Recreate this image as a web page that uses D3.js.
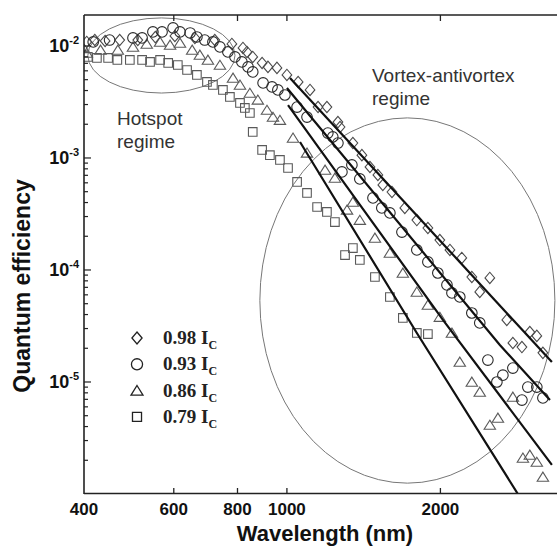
<!DOCTYPE html>
<html>
<head>
<meta charset="utf-8">
<script src="https://cdn.jsdelivr.net/npm/d3@7"></script>
<style>
html,body{margin:0;padding:0;background:#fff;}
svg{display:block;}
</style>
</head>
<body>
<svg id="chart" width="557" height="547"></svg>
<script>
// ---------- data ----------
const xTicks = [400, 600, 800, 1000, 2000];
const yMajor = [1e-2, 1e-3, 1e-4, 1e-5];
const yExp = ["-2", "-3", "-4", "-5"];
const legendLabels = ["0.98 I", "0.93 I", "0.86 I", "0.79 I"];

const lam98 = [405,420,440,470,510,552,603,660,722,780,820,835,857,894,918,956,1000,1052,1110,1151,1198,1259,1271,1347,1403,1455,1508,1542,1607,1703,1798,1890,1995,2088,2203,2305,2389,2500,2699,2774,2890,2995,3091,3177];
const qe98  = [0.01086,0.01131,0.01108,0.0113,0.0113,0.0120,0.01228,0.01179,0.0113,0.01042,0.0096,0.00884,0.00798,0.00705,0.0065,0.00637,0.00551,0.00477,0.00405,0.00285,0.00285,0.00209,0.00189,0.00136,0.00106,0.000831,0.000705,0.000574,0.000497,0.000358,0.000279,0.000237,0.000185,0.000151,0.000128,8.66e-5,6.37e-5,8.49e-5,3.58e-5,2.23e-5,2.05e-5,2.79e-5,2.58e-5,1.82e-5];

const lam93 = [417,449,499,520,546,569,598,617,646,666,690,716,739,766,791,816,839,857,898,935,960,991,1047,1095,1203,1230,1259,1282,1341,1390,1475,1535,1592,1681,1798,1890,1977,2060,2107,2183,2305,2389,2478,2581,2652,2774,2890,2968,3091,3177];
const qe93  = [0.01086,0.0113,0.01179,0.01179,0.01334,0.01334,0.01448,0.01334,0.01306,0.01203,0.0113,0.01086,0.0098,0.00884,0.00798,0.0072,0.0065,0.00586,0.00468,0.00431,0.00405,0.00365,0.00285,0.00232,0.00167,0.00154,0.00136,0.00075,0.000866,0.00065,0.00044,0.000358,0.000323,0.000218,0.000151,0.000118,9.4e-5,7.35e-5,6.24e-5,5.74e-5,4.13e-5,3.37e-5,1.57e-5,1.0e-5,1.15e-5,1.33e-5,6.9e-6,9.0e-6,9.0e-6,7.2e-6];

const lam86 = [405,431,466,499,531,564,590,617,652,675,700,739,784,809,846,877,914,939,969,1028,1095,1188,1242,1312,1347,1390,1488,1592,1688,1798,1890,1995,2107,2183,2305,2389,2500,2593,2774,2903,2995,3091,3177];
const qe86  = [0.00866,0.00921,0.00921,0.0098,0.01042,0.01086,0.0102,0.01064,0.00921,0.00831,0.0075,0.00676,0.00518,0.00449,0.0038,0.0033,0.00268,0.00232,0.00218,0.00151,0.00111,0.000781,0.000663,0.000344,0.000405,0.000279,0.000193,0.000142,9.4e-5,6.37e-5,4.87e-5,3.8e-5,2.74e-5,1.51e-5,1.0e-5,8.14e-6,4.13e-6,4.77e-6,7.35e-6,2.1e-6,2.23e-6,1.93e-6,1.42e-6];

const lam79 = [407,424,446,465,492,520,539,564,585,611,637,666,697,716,749,773,809,827,846,857,894,926,969,1005,1047,1095,1146,1198,1242,1300,1347,1390,1488,1592,1688,1798,1890];
const qe79  = [0.00798,0.00782,0.00782,0.0075,0.0075,0.0075,0.0072,0.0075,0.00705,0.00676,0.0061,0.00551,0.00477,0.00449,0.00405,0.00351,0.0031,0.0028,0.00252,0.00171,0.00118,0.00106,0.00096,0.000814,0.000611,0.000487,0.000365,0.00033,0.000268,0.000136,0.000157,0.000123,8.66e-5,5.74e-5,3.73e-5,2.74e-5,2.68e-5];

// fit lines (power-law, straight in log-log)
const fitLam98 = [1014, 3309];  const fitQe98 = [0.00518, 1.51e-5];
const fitLam93 = [1000, 2616, 3280]; const fitQe93 = [0.00422, 2.14e-5, 6.9e-6];
const fitLam86 = [1005, 2023, 3309]; const fitQe86 = [0.00297, 3.58e-5, 1.82e-6];
const fitLam79 = [1061, 1798, 2838]; const fitQe79 = [0.00139, 2.74e-5, 1.0e-6];

// regime ellipses in data units
const hotspotBox = {lamMin: 407, lamMax: 791, qeMax: 0.0178, qeMin: 0.0038};
const vortexBox  = {lamMin: 885, lamMax: 3354, qeMax: 0.00228, qeMin: 1.25e-6};

// ---------- drawing ----------
const svg = d3.select("#chart");
const L = 84, R = 557, T = 15, B = 494;
const x = d3.scaleLog().domain([400, 3386]).range([L, R]);
const y = d3.scaleLog().domain([1e-6, 0.0189]).range([B, T]);

const sans = "'Liberation Sans', Arial, Helvetica, sans-serif";
const serif = "'Liberation Serif', 'Times New Roman', serif";

svg.append("defs").append("clipPath").attr("id","clip")
  .append("rect").attr("x", L).attr("y", T).attr("width", R - L).attr("height", B - T);

// ellipses
function ellipse(b) {
  const x0 = x(b.lamMin), x1 = x(b.lamMax), y0 = y(b.qeMax), y1 = y(b.qeMin);
  svg.append("ellipse")
    .attr("cx", (x0 + x1) / 2).attr("cy", (y0 + y1) / 2)
    .attr("rx", (x1 - x0) / 2).attr("ry", (y1 - y0) / 2)
    .attr("fill", "none").attr("stroke", "#777").attr("stroke-width", 1)
    .attr("clip-path", "url(#clip)");
}
ellipse(hotspotBox);
ellipse(vortexBox);

// annotation texts
const ann = svg.append("g").attr("font-family", sans).attr("font-size", 19).attr("fill", "#333");
ann.append("text").attr("x", 117).attr("y", 125).text("Hotspot");
ann.append("text").attr("x", 117).attr("y", 148).text("regime");
ann.append("text").attr("x", 372).attr("y", 82).text("Vortex-antivortex");
ann.append("text").attr("x", 372).attr("y", 105).text("regime");

function diamondPath(s){ return `M0,${-s}L${s*0.85},0L0,${s}L${-s*0.85},0Z`; }
function trianglePath(s){ return `M0,${-s*0.85}L${s},${s*0.75}L${-s},${s*0.75}Z`; }
function squarePath(s){ return `M${-s},${-s}L${s},${-s}L${s},${s}L${-s},${s}Z`; }

const series = [
  {lam: lam79, qe: qe79, shape: "square", color: "#5a5a5a"},
  {lam: lam86, qe: qe86, shape: "triangle", color: "#5a5a5a"},
  {lam: lam98, qe: qe98, shape: "diamond", color: "#4a4a4a"},
  {lam: lam93, qe: qe93, shape: "circle", color: "#2a2a2a"}
];

const plot = svg.append("g").attr("clip-path", "url(#clip)");

function drawMarker(g, shape, cx, cy, color, scale, sw) {
  const k = scale || 1;
  let el;
  if (shape === "circle") {
    el = g.append("circle").attr("cx", cx).attr("cy", cy).attr("r", 5.3 * k);
  } else {
    let d;
    if (shape === "diamond") d = diamondPath(5.7 * k);
    else if (shape === "triangle") d = trianglePath(5.7 * k);
    else d = squarePath(4.3 * k);
    el = g.append("path").attr("d", d).attr("transform", `translate(${cx},${cy})`);
  }
  el.attr("fill", "none").attr("stroke", color).attr("stroke-width", sw || 1.1);
}

series.forEach(s => {
  s.lam.forEach((l, i) => drawMarker(plot, s.shape, x(l), y(s.qe[i]), s.color));
});

// fit lines
const lineGen = d3.line().x(d => x(d[0])).y(d => y(d[1]));
[[fitLam98, fitQe98], [fitLam93, fitQe93], [fitLam86, fitQe86], [fitLam79, fitQe79]].forEach(f => {
  const pts = f[0].map((l, i) => [l, f[1][i]]);
  plot.append("path").attr("d", lineGen(pts))
    .attr("fill", "none").attr("stroke", "#111").attr("stroke-width", 2.2);
});

// frame
const frame = svg.append("g").attr("stroke", "#222").attr("stroke-width", 1.6).attr("fill", "none");
frame.append("line").attr("x1", L).attr("x2", R).attr("y1", T).attr("y2", T);
frame.append("line").attr("x1", L).attr("x2", R).attr("y1", B - 0.5).attr("y2", B - 0.5);
frame.append("line").attr("x1", L).attr("x2", L).attr("y1", T).attr("y2", B);

// x ticks (inward, bottom and top)
const xt = svg.append("g").attr("stroke", "#222").attr("stroke-width", 1.3);
xTicks.slice(1).forEach(t => {
  xt.append("line").attr("x1", x(t)).attr("x2", x(t)).attr("y1", B).attr("y2", B - 6);
  xt.append("line").attr("x1", x(t)).attr("x2", x(t)).attr("y1", T).attr("y2", T + 6);
});
svg.append("g").attr("font-family", sans).attr("font-weight", "bold").attr("font-size", 17)
  .attr("fill", "#111").attr("text-anchor", "middle")
  .selectAll("text").data(xTicks).join("text")
  .attr("x", d => x(d)).attr("y", 515).text(d => d);

// y ticks (inward)
const yt = svg.append("g").attr("stroke", "#222").attr("stroke-width", 1.2);
for (let e = -6; e <= -2; e++) {
  for (let m = 1; m <= 9; m++) {
    const v = m * Math.pow(10, e);
    if (v < 1e-6 * 0.999 || v > 0.0189) continue;
    const py = y(v);
    if (py < T + 1 || py > B - 1) continue;
    yt.append("line").attr("x1", L).attr("x2", L + (m === 1 ? 7 : 4)).attr("y1", py).attr("y2", py);
  }
}
const ylab = svg.append("g").attr("font-family", sans).attr("font-weight", "bold").attr("fill", "#111");
yMajor.forEach((v, i) => {
  const t = ylab.append("text").attr("x", 79).attr("y", y(v) + 6).attr("text-anchor", "end");
  t.append("tspan").attr("font-size", 18).text("10");
  t.append("tspan").attr("font-size", 11).attr("dy", -8).text(yExp[i]);
});

// axis titles
svg.append("text").attr("x", 325).attr("y", 541).attr("text-anchor", "middle")
  .attr("font-family", sans).attr("font-weight", "bold").attr("font-size", 22).attr("fill", "#111")
  .text("Wavelength (nm)");
svg.append("text").attr("transform", "translate(30,286) rotate(-90)").attr("text-anchor", "middle")
  .attr("font-family", sans).attr("font-weight", "bold").attr("font-size", 23).attr("fill", "#111")
  .text("Quantum efficiency");

// legend
const legShapes = ["diamond", "circle", "triangle", "square"];
const leg = svg.append("g");
legendLabels.forEach((lab, i) => {
  const ly = 338 + i * 26.3;
  drawMarker(leg, legShapes[i], 137, ly, "#222", 1.05, 1.3);
  const t = leg.append("text").attr("x", 163).attr("y", ly + 6)
    .attr("font-family", serif).attr("font-weight", "bold").attr("font-size", 19).attr("fill", "#222");
  t.append("tspan").text(lab);
  t.append("tspan").attr("font-size", 12).attr("dy", 5).text("C");
});
</script>
</body>
</html>
